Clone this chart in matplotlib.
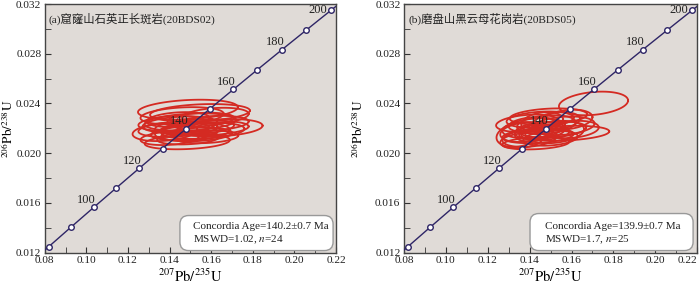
import numpy as np
import matplotlib
matplotlib.use("Agg")
import matplotlib.pyplot as plt
from matplotlib.patches import FancyBboxPatch
from matplotlib.ticker import FormatStrFormatter

plt.rcParams["font.family"] = ["Liberation Serif", "Noto Sans CJK SC"]
plt.rcParams["mathtext.fontset"] = "stix"

# ── Concordia (Ma) ────────────────────────────────────────────────────
L238 = 1.55125e-10
L235 = 9.8485e-10
ages = [80, 90, 100, 110, 120, 130, 140, 150, 160, 170, 180, 190, 200]
age_labels = [100, 120, 140, 160, 180, 200]

# ── Panel (a) 20BDS02: 207/235, 2s, 206/238, 2s, rho ─────────────────
a_x = [0.1488, 0.1546, 0.1647, 0.1377, 0.1485, 0.1450, 0.1520, 0.1420,
       0.1560, 0.1500, 0.1470, 0.1600, 0.1440, 0.1530, 0.1400, 0.1580,
       0.1500, 0.1620, 0.1460, 0.1550, 0.1410, 0.1490, 0.1570, 0.1510]
a_sx = [0.0240, 0.0240, 0.0200, 0.0155, 0.0205, 0.0180, 0.0190, 0.0170,
        0.0200, 0.0220, 0.0160, 0.0180, 0.0150, 0.0170, 0.0140, 0.0150,
        0.0130, 0.0160, 0.0200, 0.0160, 0.0160, 0.0150, 0.0210, 0.0180]
a_y = [0.02350, 0.02325, 0.02204, 0.02172, 0.02091, 0.02230, 0.02210, 0.02190,
       0.02180, 0.02250, 0.02160, 0.02240, 0.02270, 0.02150, 0.02120, 0.02130,
       0.02200, 0.02300, 0.02300, 0.02270, 0.02240, 0.02120, 0.02200, 0.02170]
a_sy = [0.00080, 0.00070, 0.00070, 0.00075, 0.00060, 0.00065, 0.00060, 0.00060,
        0.00065, 0.00070, 0.00055, 0.00060, 0.00060, 0.00055, 0.00055, 0.00050,
        0.00050, 0.00065, 0.00070, 0.00055, 0.00060, 0.00050, 0.00060, 0.00070]
a_rho = [0.25] * 24

# ── Panel (b) 20BDS05 ─────────────────────────────────────────────────
b_x = [0.1705, 0.1490, 0.1347, 0.1570, 0.1420, 0.1450, 0.1480, 0.1400,
       0.1510, 0.1380, 0.1530, 0.1440, 0.1460, 0.1560, 0.1410, 0.1500,
       0.1360, 0.1430, 0.1580, 0.1470, 0.1390, 0.1520, 0.1450, 0.1600, 0.1420]
b_sx = [0.0165, 0.0185, 0.0105, 0.0210, 0.0150, 0.0120, 0.0140, 0.0130,
        0.0160, 0.0120, 0.0110, 0.0170, 0.0100, 0.0150, 0.0110, 0.0130,
        0.0100, 0.0160, 0.0120, 0.0120, 0.0150, 0.0140, 0.0160, 0.0130, 0.0090]
b_y = [0.02400, 0.02295, 0.02150, 0.02160, 0.02200, 0.02180, 0.02230, 0.02120,
       0.02190, 0.02170, 0.02260, 0.02140, 0.02250, 0.02220, 0.02230, 0.02120,
       0.02100, 0.02080, 0.02270, 0.02160, 0.02240, 0.02170, 0.02270, 0.02190, 0.02160]
b_sy = [0.00095, 0.00065, 0.00100, 0.00060, 0.00080, 0.00070, 0.00075, 0.00070,
        0.00065, 0.00080, 0.00070, 0.00060, 0.00080, 0.00075, 0.00060, 0.00060,
        0.00060, 0.00050, 0.00080, 0.00055, 0.00070, 0.00090, 0.00065, 0.00070, 0.00065]
b_rho = [0.25] * 25

titles = ["(a)窟窿山石英正长斑岩(20BDS02)", "(b)磨盘山黑云母花岗岩(20BDS05)"]
ages_txt = ["Concordia Age=140.2±0.7 Ma", "Concordia Age=139.9±0.7 Ma"]
mswd_txt = ["MSWD=1.02, $n$=24", "MSWD=1.7, $n$=25"]

NAVY = "#2e2566"
RED = "#d42a22"
BG = "#e0dbd7"


def draw_ellipses(ax, xs, sxs, ys, sys_, rhos):
    t = np.linspace(0, 2 * np.pi, 120)
    for cx, sx, cy, sy, r in zip(xs, sxs, ys, sys_, rhos):
        ex = cx + sx * np.cos(t)
        ey = cy + sy * (r * np.cos(t) + np.sqrt(1 - r * r) * np.sin(t))
        ax.plot(ex, ey, color=RED, lw=1.3, zorder=3)


def draw_concordia(ax):
    tt = np.linspace(75, 205, 300) * 1e6
    ax.plot(np.expm1(L235 * tt), np.expm1(L238 * tt), color=NAVY, lw=1.0, zorder=4)
    a = np.array(ages) * 1e6
    ax.plot(np.expm1(L235 * a), np.expm1(L238 * a), "o", ms=4, mfc="white",
            mec=NAVY, mew=1.0, zorder=5)
    for age in age_labels:
        px, py = np.expm1(L235 * age * 1e6), np.expm1(L238 * age * 1e6)
        off = (-10, -4) if age == 200 else (-5, 1)
        ax.annotate(str(age), (px, py), xytext=off, textcoords="offset points",
                    ha="center", va="bottom", fontsize=9, color="#222", zorder=6)


fig = plt.figure(figsize=(7.0, 2.87), dpi=100)
rects = [[0.064, 0.12, 0.416, 0.866], [0.577, 0.12, 0.419, 0.866]]
data = [(a_x, a_sx, a_y, a_sy, a_rho), (b_x, b_sx, b_y, b_sy, b_rho)]
box_rect = [(0.464, 0.008, 0.526, 0.141), (0.43, 0.008, 0.556, 0.149)]
text_x = [0.509, 0.48]
ylabel_x = [-0.098, -0.13]

for i in range(2):
    ax = fig.add_axes(rects[i])
    ax.set_facecolor(BG)
    draw_ellipses(ax, *data[i])
    draw_concordia(ax)
    ax.set_xlim(0.08, 0.22)
    ax.set_ylim(0.012, 0.032)
    ax.set_xticks(np.arange(0.08, 0.2201, 0.02))
    ax.set_xticks(np.arange(0.09, 0.22, 0.02), minor=True)
    ax.set_yticks(np.arange(0.012, 0.0321, 0.004))
    ax.set_yticks(np.arange(0.014, 0.032, 0.004), minor=True)
    ax.xaxis.set_major_formatter(FormatStrFormatter("%.2f"))
    ax.yaxis.set_major_formatter(FormatStrFormatter("%.3f"))
    ax.tick_params(which="both", direction="in", length=4, labelsize=8.2,
                   colors="#333", labelcolor="#222", pad=2.5)
    for s in ax.spines.values():
        s.set_color("#444")
        s.set_linewidth(1.0)
    ax.set_xlabel(r"$^{207}\mathrm{Pb}/^{235}\mathrm{U}$", fontsize=10.5, labelpad=2)
    ax.set_ylabel(r"$^{206}\mathrm{Pb}/^{238}\mathrm{U}$", fontsize=9.5)
    ax.yaxis.set_label_coords(ylabel_x[i], 0.5)
    ax.text(0.014, 0.965, titles[i], transform=ax.transAxes, fontsize=8.2,
            ha="left", va="top", color="#222")

    bx, by, bw, bh = box_rect[i]
    ax.add_patch(FancyBboxPatch((bx, by), bw, bh, transform=ax.transAxes,
                                boxstyle="round,pad=0,rounding_size=0.03",
                                mutation_aspect=1.17, fc="white", ec="#999",
                                lw=1.0, zorder=7))
    ax.text(text_x[i], 0.103, ages_txt[i], transform=ax.transAxes, fontsize=8,
            ha="left", va="center", color="#222", zorder=8)
    ax.text(text_x[i], 0.053, mswd_txt[i], transform=ax.transAxes, fontsize=8,
            ha="left", va="center", color="#222", zorder=8)

    if i == 1:
        ax.get_xticklabels()[-1].set_ha("right")

fig.savefig("out.png", dpi=100, facecolor="white")
